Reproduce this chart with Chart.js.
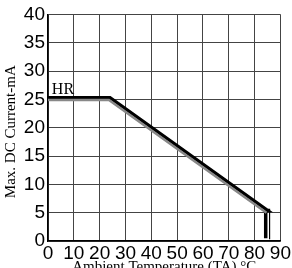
<!DOCTYPE html>
<html>
<head>
<meta charset="utf-8">
<script src="https://cdn.jsdelivr.net/npm/chart.js@4"></script>
<style>
  html, body { margin: 0; padding: 0; background: #fff; }
  #wrap { width: 292px; height: 268px; }
</style>
</head>
<body>
<div id="wrap"><canvas id="c" width="292" height="268"></canvas></div>
<script>
// derating curve
const blackTemp    = [0, 24, 85, 84.3, 84.3];
const blackCurrent = [25.3, 25.3, 5.4, 5.4, 0.5];
const grayTemp     = [0, 23.6, 84.6];
const grayCurrent  = [24.9, 24.9, 5.0];
const outerTemp    = [85.2, 85.8, 85.8];
const outerCurrent = [5.6, 5.6, 0.3];
const xTicks = [0, 10, 20, 30, 40, 50, 60, 70, 80, 90];
const yTicks = [0, 5, 10, 15, 20, 25, 30, 35, 40];
const curveName = 'HR';
const xTitle = 'Ambient Temperature (TA) \u00B0C';
const yTitle = 'Max. DC Current-mA';

function pts(xs, ys) {
  return xs.map((x, i) => ({ x: x, y: ys[i] }));
}

const tickFont = { family: 'Liberation Sans Narrow, Liberation Sans, sans-serif', size: 19 };
const serif = 'Liberation Serif, DejaVu Serif, serif';

// titles and the HR label
const textPlugin = {
  id: 'texts',
  afterDraw(chart) {
    const ctx = chart.ctx;
    const xs = chart.scales.x, ys = chart.scales.y;
    ctx.save();
    ctx.fillStyle = '#000';
    ctx.font = '16px ' + serif;
    ctx.textAlign = 'left';
    ctx.textBaseline = 'alphabetic';
    ctx.fillText(curveName, xs.getPixelForValue(1.5), ys.getPixelForValue(25.9));
    ctx.font = '15px ' + serif;
    ctx.textAlign = 'center';
    ctx.textBaseline = 'top';
    ctx.fillText(xTitle, (xs.left + xs.right) / 2, 260);
    ctx.translate(11, (ys.top + ys.bottom) / 2 + 4);
    ctx.rotate(-Math.PI / 2);
    ctx.textBaseline = 'middle';
    ctx.fillText(yTitle, 0, 0);
    ctx.restore();
  }
};

new Chart(document.getElementById('c'), {
  type: 'scatter',
  data: {
    datasets: [
      { data: pts(grayTemp, grayCurrent), showLine: true, borderColor: '#888', borderWidth: 2.5, pointRadius: 0 },
      { data: pts(outerTemp, outerCurrent), showLine: true, borderColor: '#000', borderWidth: 1.2, pointRadius: 0 },
      { data: pts(blackTemp, blackCurrent), showLine: true, borderColor: '#000', borderWidth: 3.5, pointRadius: 0, borderJoinStyle: 'miter' }
    ]
  },
  options: {
    responsive: false,
    animation: false,
    layout: { padding: { top: 14, right: 9, left: 0, bottom: 0 } },
    plugins: { legend: { display: false }, tooltip: { enabled: false } },
    scales: {
      x: {
        type: 'linear', min: 0, max: 90,
        afterBuildTicks: s => { s.ticks = xTicks.map(v => ({ value: v })); },
        afterFit: s => { s.height = 27; },
        grid: { color: '#444', lineWidth: 1, drawTicks: false },
        border: { color: '#000', width: 1.5 },
        ticks: { color: '#000', font: tickFont, padding: 1, maxRotation: 0, autoSkip: false }
      },
      y: {
        type: 'linear', min: 0, max: 40,
        afterBuildTicks: s => { s.ticks = yTicks.map(v => ({ value: v })); },
        afterFit: s => { s.width = 48; },
        grid: { color: '#444', lineWidth: 1, drawTicks: false },
        border: { color: '#000', width: 1.5 },
        ticks: { color: '#000', font: tickFont, padding: 3, autoSkip: false }
      }
    }
  },
  plugins: [textPlugin]
});
</script>
</body>
</html>
